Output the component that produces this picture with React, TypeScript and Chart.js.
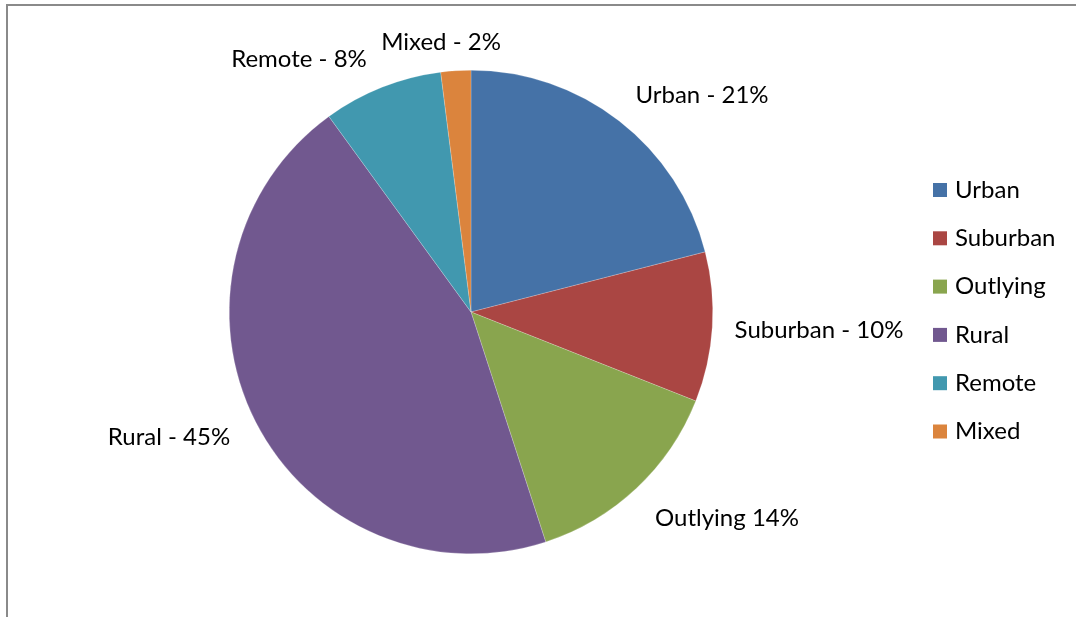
import React, { useEffect, useRef } from "react";
import { Chart, registerables } from "chart.js";

Chart.register(...registerables);

const categories = ["Urban", "Suburban", "Outlying", "Rural", "Remote", "Mixed"];
const shares = [21, 10, 14, 45, 8, 2];
const sliceLabels = ["Urban - 21%", "Suburban - 10%", "Outlying 14%", "Rural - 45%", "Remote - 8%", "Mixed - 2%"];
const colors = ["#4572A7", "#AA4643", "#89A54E", "#71588F", "#4198AF", "#DB843D"];

const FONT = "24px Lato, 'Open Sans', sans-serif";
// label anchor offsets relative to the pie centre (layout, not data)
const labelOffsets: [number, number][] = [
  [231, -217],
  [348, 18],
  [256, 206],
  [-302, 125],
  [-172, -253],
  [-30, -270],
];

const overlayPlugin = {
  id: "overlay",
  afterDraw(chart: any) {
    const ctx = chart.ctx;
    const meta = chart.getDatasetMeta(0);
    const arc0 = meta.data[0];
    const cx = arc0.x;
    const cy = arc0.y;
    ctx.save();
    ctx.font = FONT;
    ctx.fillStyle = "#000";
    ctx.textAlign = "center";
    ctx.textBaseline = "middle";
    sliceLabels.forEach((t, i) => {
      const [dx, dy] = labelOffsets[i];
      ctx.fillText(t, cx + dx, cy + dy);
    });
    // legend
    const lx = 933;
    const ly0 = 190;
    const step = 48.3;
    ctx.textAlign = "left";
    categories.forEach((c, i) => {
      const y = ly0 + i * step;
      ctx.fillStyle = colors[i];
      ctx.fillRect(lx, y - 7, 14, 14);
      ctx.fillStyle = "#000";
      ctx.fillText(c, lx + 22, y);
    });
    ctx.restore();
  },
};

export default function App() {
  const ref = useRef<HTMLCanvasElement | null>(null);
  useEffect(() => {
    if (!ref.current) return;
    const chart = new Chart(ref.current, {
      type: "pie",
      data: {
        labels: categories,
        datasets: [
          {
            data: shares,
            backgroundColor: colors,
            borderColor: "rgba(255,255,255,0.4)",
            borderWidth: 0.5,
          },
        ],
      },
      options: {
        animation: false,
        responsive: false,
        devicePixelRatio: 1,
        layout: { padding: { left: 229, right: 363, top: 70, bottom: 63 } },
        plugins: {
          legend: { display: false },
          tooltip: { enabled: false },
        },
      },
      plugins: [overlayPlugin],
    });
    return () => chart.destroy();
  }, []);
  return (
    <div style={{ position: "fixed", left: 0, top: 0, width: 1076, height: 617, background: "#fff", overflow: "hidden" }}>
      <div
        style={{
          position: "absolute",
          left: 6,
          top: 4,
          width: 2000,
          height: 2000,
          borderLeft: "2px solid #8a8a8a",
          borderTop: "2px solid #8a8a8a",
        }}
      />
      <canvas ref={ref} width={1076} height={617} style={{ position: "absolute", left: 0, top: 0 }} />
    </div>
  );
}
